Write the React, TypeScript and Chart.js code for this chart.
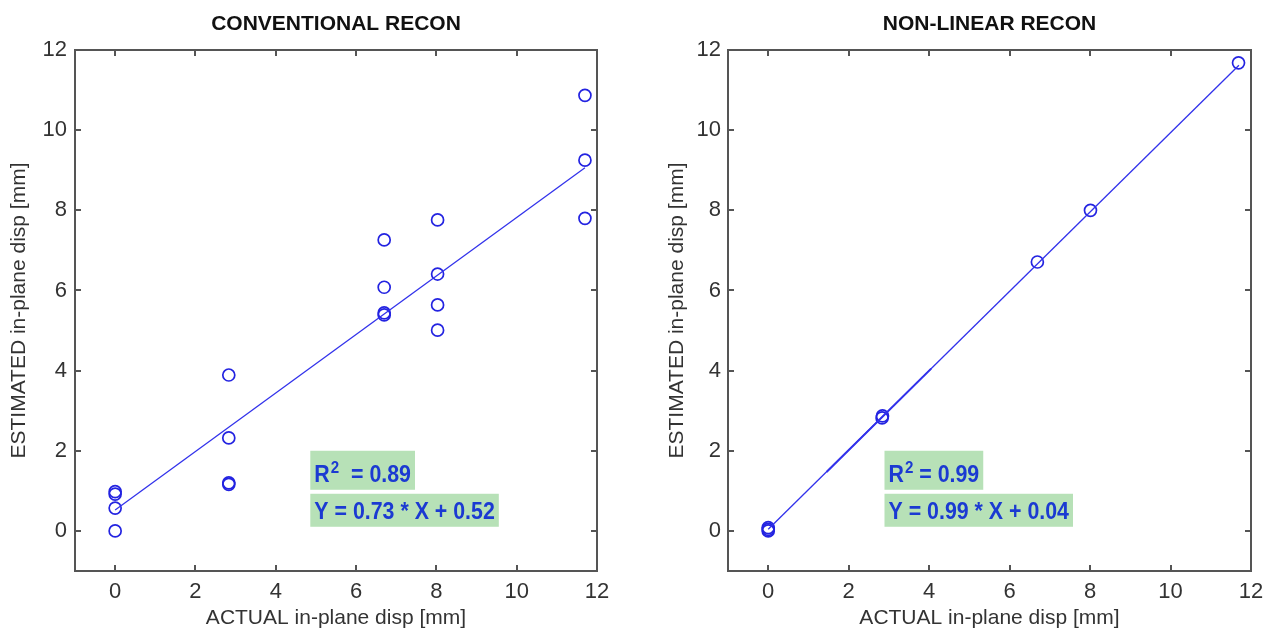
import React, { useEffect, useRef } from "react";
import { Chart, registerables } from "chart.js";

Chart.register(...registerables);

// ---------- data ----------
const TICK_VALUES = [0, 2, 4, 6, 8, 10, 12];
const AXIS_MIN = -1;
const AXIS_MAX = 12;

const CONV_TITLE = "CONVENTIONAL RECON";
const CONV_X = [0, 0, 0, 0, 2.83, 2.83, 2.83, 2.83, 6.7, 6.7, 6.7, 6.7, 8.03, 8.03, 8.03, 8.03, 11.7, 11.7, 11.7];
const CONV_Y = [0, 0.57, 0.92, 0.98, 3.89, 2.32, 1.2, 1.16, 7.26, 6.08, 5.44, 5.39, 7.76, 6.41, 5.64, 5.01, 10.87, 9.25, 7.8];
const CONV_FIT_X = [0, 11.7];
const CONV_FIT_Y = [0.52, 9.06];
const CONV_R2 = "  = 0.89";
const CONV_EQ = "Y = 0.73 * X + 0.52";

const NL_TITLE = "NON-LINEAR RECON";
const NL_X = [0, 0, 0, 2.83, 2.84, 6.69, 8.01, 11.69];
const NL_Y = [0, 0.04, 0.08, 2.82, 2.87, 6.71, 8.0, 11.68];
const NL_FIT_X = [0, 11.7];
const NL_FIT_Y = [0.04, 11.62];
const NL_OVERLAP_X = [1.45, 4.05];
const NL_OVERLAP_Y = [1.47, 4.05];
const NL_R2 = " = 0.99";
const NL_EQ = "Y = 0.99 * X + 0.04";

const X_LABEL = "ACTUAL in-plane disp [mm]";
const Y_LABEL = "ESTIMATED in-plane disp [mm]";

// ---------- styles ----------
const FONT = "'Liberation Sans', Arial, sans-serif";
const AXIS_COLOR = "#555555";
const TEXT_COLOR = "#333333";
const MARK_COLOR = "rgb(35,35,225)";
const LINE_COLOR = "rgb(50,50,235)";
const BOX_COLOR = "#b7e1b7";
const ANNOT_COLOR = "#1b3ad2";

const pts = (xs: number[], ys: number[]) => xs.map((x, i) => ({ x, y: ys[i] }));

const framePlugin = {
  id: "frameTicks",
  afterDatasetsDraw(chart: any) {
    const { ctx, chartArea: a, scales } = chart;
    ctx.save();
    ctx.strokeStyle = AXIS_COLOR;
    ctx.lineWidth = 2;
    ctx.beginPath();
    for (const v of TICK_VALUES) {
      const x = Math.round(scales.x.getPixelForValue(v));
      ctx.moveTo(x, a.bottom);
      ctx.lineTo(x, a.bottom - 6);
      ctx.moveTo(x, a.top);
      ctx.lineTo(x, a.top + 6);
      const y = Math.round(scales.y.getPixelForValue(v));
      ctx.moveTo(a.left, y);
      ctx.lineTo(a.left + 6, y);
      ctx.moveTo(a.right, y);
      ctx.lineTo(a.right - 6, y);
    }
    ctx.stroke();
    ctx.strokeRect(a.left, a.top, a.right - a.left, a.bottom - a.top);
    ctx.restore();
  },
};

const titlePlugin = {
  id: "topTitle",
  afterDraw(chart: any, _args: any, opts: any) {
    const { ctx, chartArea: a } = chart;
    ctx.save();
    ctx.font = `bold 21px ${FONT}`;
    ctx.fillStyle = "#111111";
    ctx.textAlign = "center";
    ctx.textBaseline = "middle";
    ctx.fillText(opts.text, (a.left + a.right) / 2, 24);
    ctx.restore();
  },
};

const annotPlugin = {
  id: "fitAnnot",
  afterDatasetsDraw(chart: any, _args: any, opts: any) {
    const { ctx, scales } = chart;
    const left = scales.x.getPixelForValue(opts.x);
    const top = scales.y.getPixelForValue(opts.y);
    const sx = 0.89;
    const big = `bold 24px ${FONT}`;
    const small = `bold 17px ${FONT}`;
    ctx.save();
    ctx.font = big;
    const wR = ctx.measureText("R").width * sx;
    const wRest = ctx.measureText(opts.r2).width * sx;
    ctx.font = small;
    const w2 = ctx.measureText("2").width * sx;
    const w1 = wR + w2 + wRest + 9;
    ctx.fillStyle = BOX_COLOR;
    ctx.fillRect(left, top, w1, 39);
    ctx.font = big;
    const w3 = ctx.measureText(opts.eq).width * sx + 8;
    ctx.fillRect(left, top + 43, w3, 33);

    ctx.fillStyle = ANNOT_COLOR;
    ctx.textBaseline = "alphabetic";
    ctx.textAlign = "left";
    const drawScaled = (t: string, x: number, y: number, font: string) => {
      ctx.save();
      ctx.font = font;
      ctx.translate(x, y);
      ctx.scale(sx, 1);
      ctx.fillText(t, 0, 0);
      ctx.restore();
    };
    drawScaled("R", left + 4, top + 31, big);
    drawScaled("2", left + 5 + wR, top + 22, small);
    drawScaled(opts.r2, left + 5 + wR + w2, top + 31, big);
    drawScaled(opts.eq, left + 4, top + 68, big);
    ctx.restore();
  },
};

function makeConfig(
  title: string,
  xs: number[],
  ys: number[],
  fx: number[],
  fy: number[],
  extra: { x: number; y: number }[] | null,
  r2: string,
  eq: string,
  annotX: number,
  yAxisWidth: number,
  padRight: number,
  yTitlePad: number,
  yTickPad: number
): any {
  const datasets: any[] = [
    {
      type: "line",
      data: pts(fx, fy),
      borderColor: LINE_COLOR,
      borderWidth: 1.3,
      pointRadius: 0,
      fill: false,
    },
  ];
  if (extra) {
    datasets.push({
      type: "line",
      data: extra,
      borderColor: LINE_COLOR,
      borderWidth: 2,
      pointRadius: 0,
      fill: false,
    });
  }
  datasets.push({
    type: "scatter",
    data: pts(xs, ys),
    showLine: false,
    pointStyle: "circle",
    pointRadius: 6,
    pointBorderWidth: 1.7,
    pointBorderColor: MARK_COLOR,
    pointBackgroundColor: "rgba(0,0,0,0)",
  });
  const tickCommon = {
    font: { family: FONT, size: 22 },
    color: TEXT_COLOR,
    maxRotation: 0,
    autoSkip: false,
  };
  return {
    type: "scatter",
    data: { datasets },
    plugins: [titlePlugin, annotPlugin, framePlugin],
    options: {
      responsive: false,
      animation: false,
      layout: { padding: { top: 50, right: padRight, left: 0, bottom: 0 } },
      plugins: {
        legend: { display: false },
        tooltip: { enabled: false },
        topTitle: { text: title },
        fitAnnot: { x: annotX, y: 2.0, r2, eq },
      },
      scales: {
        x: {
          type: "linear",
          min: AXIS_MIN,
          max: AXIS_MAX,
          afterBuildTicks: (s: any) => {
            s.ticks = TICK_VALUES.map((v) => ({ value: v }));
          },
          afterFit: (s: any) => {
            s.height = 64;
          },
          grid: { display: false, drawTicks: false },
          border: { display: false },
          ticks: { ...tickCommon, padding: 8 },
          title: {
            display: true,
            text: X_LABEL,
            font: { family: FONT, size: 21 },
            color: TEXT_COLOR,
            padding: { top: 0, bottom: 4 },
          },
        },
        y: {
          type: "linear",
          min: AXIS_MIN,
          max: AXIS_MAX,
          afterBuildTicks: (s: any) => {
            s.ticks = TICK_VALUES.map((v) => ({ value: v }));
          },
          afterFit: (s: any) => {
            s.width = yAxisWidth;
          },
          grid: { display: false, drawTicks: false },
          border: { display: false },
          ticks: { ...tickCommon, padding: yTickPad },
          title: {
            display: true,
            text: Y_LABEL,
            font: { family: FONT, size: 21 },
            color: TEXT_COLOR,
            padding: { top: yTitlePad, bottom: 0 },
          },
        },
      },
    },
  };
}

export default function App() {
  const leftRef = useRef<HTMLCanvasElement | null>(null);
  const rightRef = useRef<HTMLCanvasElement | null>(null);

  useEffect(() => {
    const c1 = new Chart(
      leftRef.current as HTMLCanvasElement,
      makeConfig(CONV_TITLE, CONV_X, CONV_Y, CONV_FIT_X, CONV_FIT_Y, null, CONV_R2, CONV_EQ, 4.86, 75, 43, 7, 8)
    );
    const c2 = new Chart(
      rightRef.current as HTMLCanvasElement,
      makeConfig(
        NL_TITLE,
        NL_X,
        NL_Y,
        NL_FIT_X,
        NL_FIT_Y,
        pts(NL_OVERLAP_X, NL_OVERLAP_Y),
        NL_R2,
        NL_EQ,
        2.89,
        88,
        21,
        25,
        7
      )
    );
    return () => {
      c1.destroy();
      c2.destroy();
    };
  }, []);

  return (
    <div style={{ position: "absolute", left: 0, top: 0, width: 1272, height: 635, background: "#ffffff" }}>
      <canvas
        ref={leftRef}
        width={640}
        height={635}
        style={{ position: "absolute", left: 0, top: 0, width: 640, height: 635 }}
      />
      <canvas
        ref={rightRef}
        width={632}
        height={635}
        style={{ position: "absolute", left: 640, top: 0, width: 632, height: 635 }}
      />
    </div>
  );
}
